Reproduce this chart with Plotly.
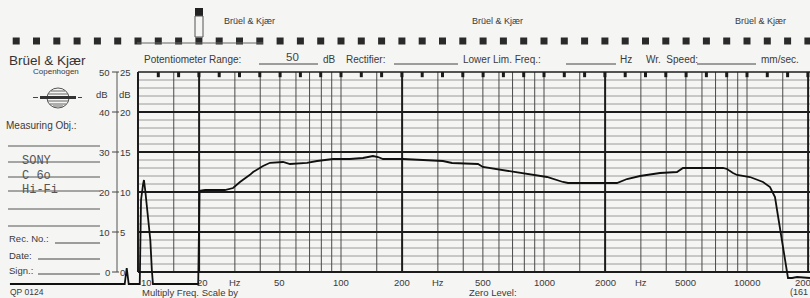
import math
import plotly.graph_objects as go

# ---------------- data (read from the recording) ----------------
freq_hz = [2.34, 8.6, 8.8, 9.0, 10.2, 10.35, 10.6, 10.7, 10.85, 11.1, 11.3, 11.5, 11.7, 11.85,
           19.8, 20.1, 21.4, 26.8, 29.4, 31.8, 35.6, 36.9, 41.3, 44.7, 51.8, 56.1, 68, 76.2, 91.3,
           110.7, 128.3, 135.8, 143.7, 152.2, 161, 202, 245, 318, 352, 473, 500, 628, 806, 1035,
           1240, 1313, 2288, 2564, 2972, 3727, 4520, 4838, 7616, 7970, 8531, 8929, 10346, 11989,
           12982, 13737, 14213, 14873, 15390, 15740, 15920, 16670, 17640, 20430]
level_db = [-3, -3, 1.0, -3, -3, 18, 22, 23, 20.5, 15.5, 11.75, 8, 0.5, -3,
            -3, 20.3, 20.5, 20.5, 21, 22.5, 24.3, 25, 26.5, 27.3, 27.5, 27.0, 27.3, 27.75, 28.25,
            28.25, 28.5, 28.75, 29, 28.75, 28.25, 28.25, 28.0, 27.75, 27.25, 27.0, 26.25, 25.5, 24.75, 23.75,
            22.5, 22.25, 22.25, 23.25, 24, 24.75, 25, 26, 26, 25.75, 24.75, 24.25, 23.75, 22.5,
            21.25, 18.75, 14, 8, 3.75, -0.25, -1.5, -1.5, -1.25, -1.5]

db_major = [0, 10, 20, 30, 40]
db_top = 50
db_minor = [d for d in range(2, 50, 2) if d % 10]
decades = [10, 100, 1000, 10000]
decade_mult = [1, 1.5, 2, 3, 4, 5, 6, 7, 8, 9]
heavy_freqs = [10, 20, 200, 2000, 20000]
freq_ticks = [10, 20, 50, 100, 200, 500, 1000, 2000, 5000, 10000, 20000]
freq_tick_labels = ["10", "20", "50", "100", "200", "500", "1000", "2000", "5000", "10000", "20000"]
hz_label_freqs = [30, 300, 3000]
scale_db = [50, 40, 30, 20, 10, 0]
scale_left = ["50", "40", "30", "20", "10", "0"]
scale_right = ["25", "20", "15", "10", "5", "0"]
third_octave_steps = list(range(-6, 34))

# ---------------- geometry / style ----------------
W, H = 810, 298
X0PX, PXDEC = 138, 203      # 10 Hz position, px per decade
Y0PX, PXDB = 272, 4.0       # 0 dB position, px per dB
FMAX = 10 ** (1 + (W - X0PX) / PXDEC)
xrange = [1 - X0PX / PXDEC, 1 + (W - X0PX) / PXDEC]
yrange = [-(H - Y0PX) / PXDB, Y0PX / PXDB]

BG = "#f5f5f3"
INK = "#1c1c1c"
GRID = "#4a4a4a"
MINOR = "#9a9a9a"
TXT = "#3a3a3a"
SANS = "Liberation Sans, Arial, sans-serif"
MONO = "Liberation Mono, DejaVu Sans Mono, monospace"

fig = go.Figure()


def seg_trace(xpairs, ypairs, color, width):
    xs, ys = [], []
    for (a, b), (c, d) in zip(xpairs, ypairs):
        xs += [a, b, None]
        ys += [c, d, None]
    fig.add_trace(go.Scatter(x=xs, y=ys, mode="lines", line=dict(color=color, width=width),
                             hoverinfo="skip", showlegend=False))


# minor horizontal lines
seg_trace([(10, FMAX)] * len(db_minor), [(d, d) for d in db_minor], MINOR, 1)
# vertical lines
vf = [d * m for d in decades for m in decade_mult if d * m <= 20000 and d * m not in heavy_freqs]
seg_trace([(f, f) for f in vf], [(0, db_top)] * len(vf), GRID, 1)
seg_trace([(f, f) for f in heavy_freqs], [(0, db_top)] * len(heavy_freqs), INK, 2)
# major horizontal lines and top frame
seg_trace([(10, FMAX)] * len(db_major), [(d, d) for d in db_major], INK, 2)
seg_trace([(10, FMAX)], [(db_top, db_top)], INK, 1.6)
# 1/3-octave marks on the top edge
tf = [10 ** (1 + k / 10) for k in third_octave_steps if k >= 1]
seg_trace([(f, f) for f in tf], [(db_top, db_top - 1.3)] * len(tf), INK, 3)
# sprocket squares
sq = [10 ** (1 + k / 10) for k in third_octave_steps]
fig.add_trace(go.Scatter(x=sq, y=[(Y0PX - 41) / PXDB] * len(sq), mode="markers",
                         marker=dict(symbol="square", size=7, color="#2a2a2a"),
                         hoverinfo="skip", showlegend=False))

# the recorded curve
fig.add_trace(go.Scatter(x=freq_hz, y=level_db, mode="lines",
                         line=dict(color="#101010", width=1.8),
                         hoverinfo="skip", showlegend=False))

annotations = []
shapes = []


def ptxt(text, px, py, size=10, xanchor="left", font=SANS, color=TXT):
    annotations.append(dict(text=text, x=px / W, y=1 - py / H, xref="paper", yref="paper",
                            xanchor=xanchor, yanchor="middle", showarrow=False,
                            font=dict(family=font, size=size, color=color)))


def pline(x0, y0, x1, y1, color="#444", width=1):
    shapes.append(dict(type="line", xref="paper", yref="paper", x0=x0 / W, x1=x1 / W,
                       y0=1 - y0 / H, y1=1 - y1 / H, line=dict(color=color, width=width)))


# frequency labels
for f, lab in zip(freq_ticks, freq_tick_labels):
    shift = 8 if f == 10 else (3 if f == 20 else 0)
    annotations.append(dict(text=lab, x=math.log10(f), y=1 - 282 / H, xref="x", yref="paper",
                            xanchor="center", yanchor="middle", xshift=shift, showarrow=False,
                            font=dict(family=SANS, size=9.5, color=TXT)))
for f in hz_label_freqs:
    annotations.append(dict(text="Hz", x=math.log10(f), y=1 - 282 / H, xref="x", yref="paper",
                            xanchor="center", yanchor="middle", showarrow=False,
                            font=dict(family=SANS, size=9.5, color=TXT)))

# left dB scale
shapes.append(dict(type="line", xref="paper", yref="y", x0=117 / W, x1=117 / W, y0=0, y1=db_top,
                   line=dict(color="#555", width=1)))
for d, a, b in zip(scale_db, scale_left, scale_right):
    shapes.append(dict(type="line", xref="paper", yref="y", x0=112 / W, x1=119 / W, y0=d, y1=d,
                       line=dict(color="#444", width=1)))
    annotations.append(dict(text=a, x=112 / W, y=d, xref="paper", yref="y", xanchor="right",
                            yanchor="middle", showarrow=False,
                            font=dict(family=SANS, size=9.5, color=TXT)))
    annotations.append(dict(text=b, x=118 / W, y=d, xref="paper", yref="y", xanchor="left",
                            yanchor="middle", showarrow=False,
                            font=dict(family=SANS, size=9.5, color=TXT)))
ptxt("dB", 110, 94, 9.5, "right")
ptxt("dB", 117, 94, 9.5, "left")

# header strip
for x in [222, 470, 733]:
    ptxt("Brüel &amp; Kjær", x, 21, 9)
shapes.append(dict(type="rect", xref="paper", yref="paper", x0=195 / W, x1=203 / W,
                   y0=1 - 16 / H, y1=1 - 8 / H, fillcolor="#222", line=dict(width=0)))
shapes.append(dict(type="rect", xref="paper", yref="paper", x0=195 / W, x1=203 / W,
                   y0=1 - 37 / H, y1=1 - 16 / H, fillcolor="rgba(0,0,0,0)",
                   line=dict(color="#555", width=1)))
pline(137, 43, 263, 43, "#666", 1)

ptxt("Brüel &amp; Kjær", 7, 61, 13.5, color="#333")
ptxt("Potentiometer Range:", 142, 59, 10)
pline(259, 64, 318, 64)
ptxt("50", 292, 57, 11.5, "center", color="#444")
ptxt("dB", 321, 59, 10)
ptxt("Rectifier:", 344, 59, 10)
pline(394, 64, 458, 64)
ptxt("Lower Lim. Freq.:", 461, 59, 10)
pline(566, 64, 616, 64)
ptxt("Hz", 618, 59, 10)
ptxt("Wr.  Speed:", 644, 59, 10)
pline(697, 64, 756, 64)
ptxt("mm/sec.", 759, 59, 10)

# left form panel
ptxt("Copenhogen", 56, 71, 8, "center")
# globe logo
shapes.append(dict(type="circle", xref="paper", yref="paper", x0=47 / W, x1=69 / W,
                   y0=1 - 108 / H, y1=1 - 88 / H, line=dict(color="#555", width=1)))
for yy, half in [(91, 7), (94, 10), (101, 10), (104, 8), (106, 5)]:
    pline(58 - half, yy, 58 + half, yy, "#666", 1)
shapes.append(dict(type="rect", xref="paper", yref="paper", x0=40 / W, x1=76 / W,
                   y0=1 - 99 / H, y1=1 - 96 / H, fillcolor="#333", line=dict(width=0)))
pline(33, 97.5, 38, 97.5, "#444", 1)
pline(78, 97.5, 82, 97.5, "#444", 1)

ptxt("Measuring Obj.:", 4, 126, 10)
for yy in [146, 162, 177, 191, 209, 226]:
    pline(8, yy, 100, yy, "#555", 1)
ptxt("SONY", 20, 161, 12, font=MONO, color="#555")
ptxt("C 6o", 20, 176, 12, font=MONO, color="#555")
ptxt("Hi-Fi", 20, 190, 12, font=MONO, color="#555")
ptxt("Rec. No.:", 7, 238, 9.5)
pline(55, 243, 100, 243)
ptxt("Date:", 7, 255, 9.5)
pline(38, 259, 100, 259)
ptxt("Sign.:", 7, 270, 9.5)
pline(38, 274, 100, 274)
ptxt("QP 0124", 8, 292, 8.5)
ptxt("Multiply Freq. Scale by", 140, 292, 9.5)
ptxt("Zero Level:", 467, 292, 9.5)
ptxt("(161", 788, 292, 9)

fig.update_layout(
    width=W, height=H,
    margin=dict(l=0, r=0, t=0, b=0),
    paper_bgcolor=BG, plot_bgcolor=BG,
    xaxis=dict(type="log", range=xrange, visible=False, showgrid=False, zeroline=False),
    yaxis=dict(range=yrange, visible=False, showgrid=False, zeroline=False),
    annotations=annotations, shapes=shapes, showlegend=False,
)
fig.write_html("out.html", config={"displayModeBar": False, "staticPlot": True},
               post_script="document.body.style.margin='0';document.body.style.padding='0';"
                           "document.body.style.overflow='hidden';")
